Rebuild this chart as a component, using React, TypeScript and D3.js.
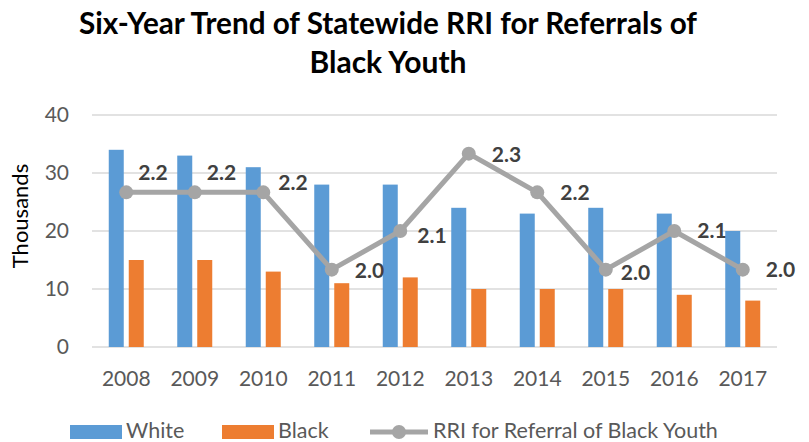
import React from "react";
import * as d3 from "d3";

const years = ["2008", "2009", "2010", "2011", "2012", "2013", "2014", "2015", "2016", "2017"];
const whiteVals = [34, 33, 31, 28, 28, 24, 23, 24, 23, 20];
const blackVals = [15, 15, 13, 11, 12, 10, 10, 10, 9, 8];
const rriVals = [2.2, 2.2, 2.2, 2.0, 2.1, 2.3, 2.2, 2.0, 2.1, 2.0];
const yTicks = [0, 10, 20, 30, 40];
const seriesNames = ["White", "Black"];
// label nudges (dx from point, dy from point)
const labelNudge: [number, number][] = [
  [12, -20], [12, -20], [15, -10], [23, 1], [17, 5],
  [23, 1], [23, 0], [15, 3], [23, 0], [23, 0],
];

const W = 809, H = 442;
const M = { left: 92, right: 777, top: 115, bottom: 347 };
const BLUE = "#5B9BD5", ORANGE = "#ED7D31", GRAY = "#A5A5A5";
const FONT = "Lato, 'Open Sans', sans-serif";

export default function App() {
  const x = d3.scaleBand<string>().domain(years).range([M.left, M.right]).padding(0);
  const inner = d3.scaleBand<string>().domain(seriesNames).range([0, x.bandwidth()]).paddingInner(0.25).paddingOuter(0.8375);
  const y = d3.scaleLinear().domain([0, 40]).range([M.bottom, M.top]);
  const y2 = d3.scaleLinear().domain([1.8, 2.4]).range([M.bottom, M.top]);
  const cx = (i: number) => (x(years[i]) as number) + x.bandwidth() / 2;
  const line = d3.line<number>().x((_, i) => cx(i)).y((d) => y2(d));

  return (
    <svg width={W} height={H} style={{ position: "absolute", left: 0, top: 0, background: "#fff" }} fontFamily={FONT}>
      <rect width={W} height={H} fill="#fff" />
      <text x={388} y={34} textAnchor="middle" fontWeight="bold" fontSize={30} fill="#000" textLength={618} lengthAdjust="spacingAndGlyphs">
        Six-Year Trend of Statewide RRI for Referrals of
      </text>
      <text x={388} y={73} textAnchor="middle" fontWeight="bold" fontSize={30} fill="#000">
        Black Youth
      </text>

      {yTicks.map((t) => (
        <g key={t}>
          <line x1={M.left} x2={M.right} y1={y(t)} y2={y(t)} stroke="#D9D9D9" strokeWidth={1.5} />
          <text x={69} y={y(t)} dy="0.35em" textAnchor="end" fontSize={21} fill="#595959">{t}</text>
        </g>
      ))}
      <text transform={`translate(28,216) rotate(-90)`} textAnchor="middle" fontSize={22} fill="#000">Thousands</text>

      {years.map((yr, i) => (
        <g key={yr}>
          <rect x={(x(yr) as number) + (inner("White") as number)} y={y(whiteVals[i])} width={inner.bandwidth()} height={y(0) - y(whiteVals[i])} fill={BLUE} />
          <rect x={(x(yr) as number) + (inner("Black") as number)} y={y(blackVals[i])} width={inner.bandwidth()} height={y(0) - y(blackVals[i])} fill={ORANGE} />
          <text x={cx(i)} y={386} textAnchor="middle" fontSize={21} fill="#595959">{yr}</text>
        </g>
      ))}

      <path d={line(rriVals) || ""} fill="none" stroke={GRAY} strokeWidth={5} strokeLinejoin="round" />
      {rriVals.map((v, i) => (
        <g key={i}>
          <circle cx={cx(i)} cy={y2(v)} r={7} fill={GRAY} />
          <text x={cx(i) + labelNudge[i][0]} y={y2(v) + labelNudge[i][1]} dy="0.35em" fontWeight="bold" fontSize={21} fill="#404040">{v.toFixed(1)}</text>
        </g>
      ))}

      <g fontSize={21.5} fill="#595959">
        <rect x={70} y={425} width={52} height={14} fill={BLUE} />
        <text x={126} y={438}>White</text>
        <rect x={222} y={425} width={52} height={14} fill={ORANGE} />
        <text x={278} y={438}>Black</text>
        <line x1={370} x2={428} y1={432} y2={432} stroke={GRAY} strokeWidth={5} />
        <circle cx={399} cy={432} r={7} fill={GRAY} />
        <text x={433} y={438}>RRI for Referral of Black Youth</text>
      </g>
    </svg>
  );
}
